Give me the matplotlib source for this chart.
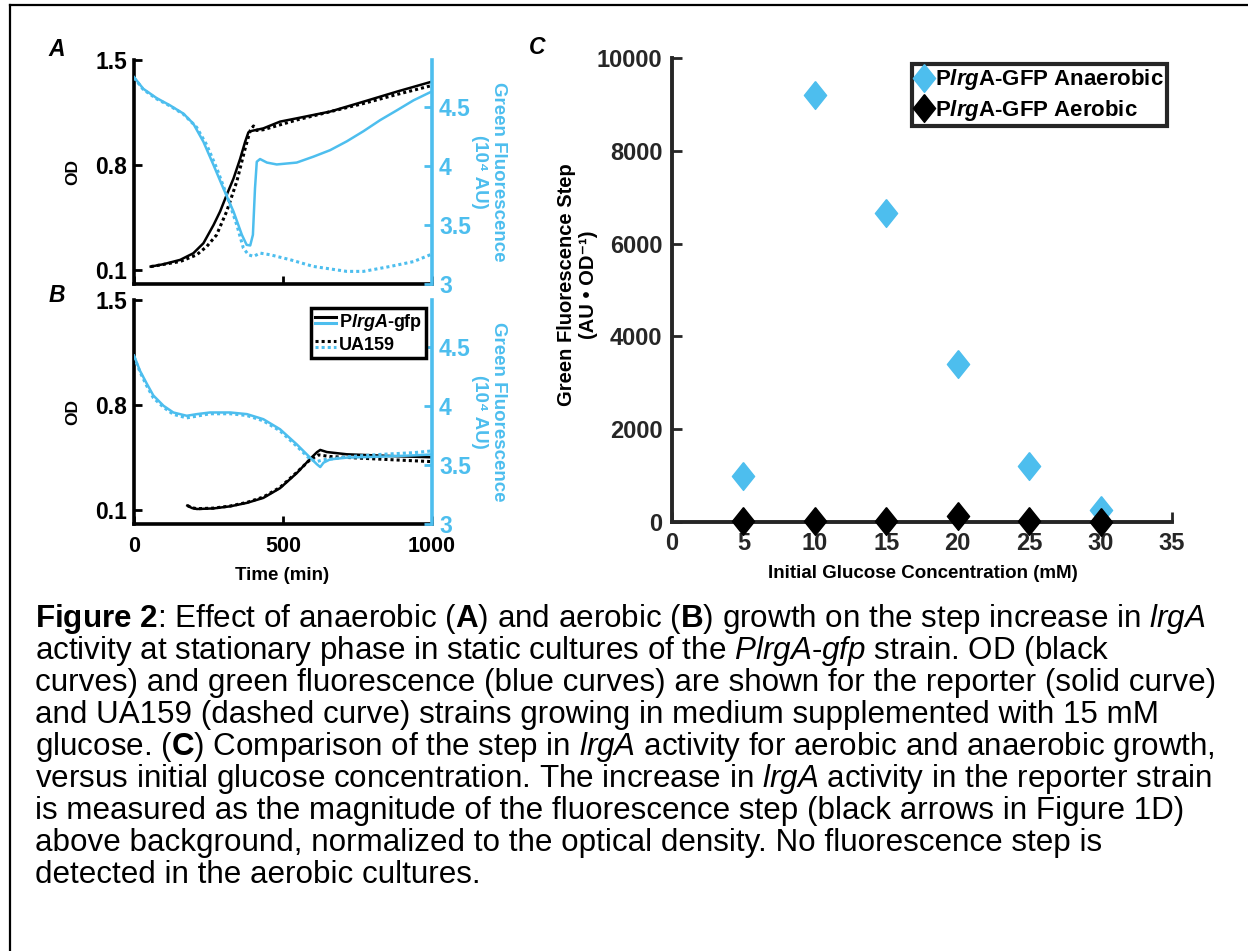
import numpy as np
import matplotlib
matplotlib.use("Agg")
import matplotlib.pyplot as plt
from matplotlib.lines import Line2D
from matplotlib.legend_handler import HandlerBase

plt.rcParams['font.family'] = ['Liberation Sans', 'DejaVu Sans']
plt.rcParams['font.weight'] = 'bold'
plt.rcParams['mathtext.fontset'] = 'custom'
plt.rcParams['mathtext.rm'] = 'Liberation Sans:weight=normal'
plt.rcParams['mathtext.it'] = 'Liberation Sans:style=italic:weight=normal'
plt.rcParams['mathtext.bf'] = 'Liberation Sans:weight=bold'
plt.rcParams['mathtext.bfit'] = 'Liberation Sans:style=italic:weight=bold'

BLUE = '#4DBEEE'
DARK = '#262626'

# ---- panel A: anaerobic growth (15 mM glucose) ----
tA_rep = [56, 99, 155, 199, 233, 267, 289, 311, 334, 356, 373, 384, 395, 434, 490, 546, 658, 770, 882, 1000]
odA_rep = [0.122, 0.138, 0.167, 0.211, 0.278, 0.40, 0.49, 0.60, 0.71, 0.84, 0.955, 1.018, 1.027, 1.044,
           1.089, 1.111, 1.156, 1.222, 1.289, 1.356]
tA_ua = [56, 155, 210, 244, 277, 311, 345, 373, 390, 401, 412, 434, 546, 770, 882, 1000]
odA_ua = [0.122, 0.156, 0.20, 0.256, 0.333, 0.49, 0.69, 0.91, 1.03, 1.06, 1.03, 1.035, 1.10, 1.21, 1.27, 1.33]

tfA_rep = [0, 31, 76, 121, 166, 199, 233, 267, 300, 334, 362, 378, 390, 399, 406, 412, 423, 446, 479, 546,
           602, 658, 714, 770, 826, 882, 938, 1000]
flA_rep = [4.755, 4.656, 4.577, 4.515, 4.445, 4.36, 4.206, 4.008, 3.81, 3.614, 3.417, 3.332, 3.327, 3.417,
           3.81, 4.037, 4.06, 4.03, 4.014, 4.03, 4.08, 4.135, 4.21, 4.296, 4.39, 4.473, 4.558, 4.634]
tfA_ua = [0, 31, 76, 121, 166, 210, 244, 278, 311, 345, 367, 384, 401, 423, 457, 524, 602, 714, 770, 860,
          938, 1000]
flA_ua = [4.75, 4.65, 4.57, 4.51, 4.44, 4.33, 4.18, 3.98, 3.755, 3.50, 3.304, 3.248, 3.234, 3.262, 3.248,
          3.206, 3.149, 3.107, 3.107, 3.149, 3.19, 3.254]

# ---- panel B: aerobic growth ----
tB_rep = [179, 194, 211, 267, 323, 379, 434, 490, 546, 591, 614, 625, 647, 714, 882, 1000]
odB_rep = [0.129, 0.113, 0.106, 0.11, 0.124, 0.147, 0.18, 0.245, 0.345, 0.44, 0.485, 0.50, 0.486, 0.471,
           0.458, 0.451]
tB_ua = [179, 194, 211, 267, 323, 379, 434, 490, 546, 591, 619, 658, 770, 882, 1000]
odB_ua = [0.129, 0.115, 0.108, 0.112, 0.126, 0.15, 0.186, 0.25, 0.35, 0.435, 0.467, 0.456, 0.444, 0.433, 0.422]

tfB_rep = [0, 20, 43, 65, 99, 132, 177, 211, 255, 323, 379, 434, 490, 546, 591, 614, 625, 636, 658, 714,
           826, 938, 1000]
flB_rep = [4.429, 4.30, 4.19, 4.09, 4.003, 3.946, 3.918, 3.932, 3.946, 3.946, 3.932, 3.889, 3.804, 3.676,
           3.563, 3.506, 3.483, 3.52, 3.548, 3.563, 3.571, 3.582, 3.59]
tfB_ua = [0, 20, 43, 65, 99, 132, 177, 211, 255, 323, 379, 434, 490, 546, 591, 614, 636, 658, 714, 826,
          938, 1000]
flB_ua = [4.42, 4.29, 4.17, 4.07, 3.99, 3.93, 3.90, 3.915, 3.935, 3.935, 3.92, 3.875, 3.79, 3.66, 3.55,
          3.53, 3.545, 3.55, 3.57, 3.59, 3.605, 3.62]

# ---- panel C: fluorescence step vs glucose ----
glucose = [5, 10, 15, 20, 25, 30]
step_anaerobic = [1000, 9200, 6650, 3400, 1200, 250]
step_aerobic = [30, 20, 15, 130, 20, 10]

od_ticks = [0.1, 0.8, 1.5]
fl_ticks = [3, 3.5, 4, 4.5]
fl_ticklabels = ['3', '3.5', '4', '4.5']
time_ticks = [0, 500, 1000]

HY = '\u2010'  # plain hyphen inside mathtext
caption = [
    r"$\mathbf{Figure\ 2}$: Effect of anaerobic ($\mathbf{A}$) and aerobic ($\mathbf{B}$) growth on the step increase in $\mathit{lrgA}$",
    r"activity at stationary phase in static cultures of the $\mathit{PlrgA" + HY + r"gfp}$ strain. OD (black",
    "curves) and green fluorescence (blue curves) are shown for the reporter (solid curve)",
    "and UA159 (dashed curve) strains growing in medium supplemented with 15 mM",
    r"glucose. ($\mathbf{C}$) Comparison of the step in $\mathit{lrgA}$ activity for aerobic and anaerobic growth,",
    r"versus initial glucose concentration. The increase in $\mathit{lrgA}$ activity in the reporter strain",
    "is measured as the magnitude of the fluorescence step (black arrows in Figure 1D)",
    "above background, normalized to the optical density. No fluorescence step is",
    "detected in the aerobic cultures.",
]

W, H = 1248, 951
fig = plt.figure(figsize=(W / 100, H / 100), dpi=100)


def px_axes(left, top, right, bottom):
    return fig.add_axes([left / W, 1 - bottom / H, (right - left) / W, (bottom - top) / H])


def fx(x):
    return x / W


def fy(y):
    return 1 - y / H


class StackedLines(HandlerBase):
    # black line above the blue one, like the two curves of each strain
    def create_artists(self, legend, orig_handle, xdescent, ydescent, width, height, fontsize, trans):
        out = []
        for k, ln in enumerate(orig_handle):
            y = height / 2 - ydescent + (2.2 if k == 0 else -2.2)
            a = Line2D([-xdescent, width - xdescent], [y, y])
            a.update_from(ln)
            a.set_transform(trans)
            out.append(a)
        return out


def growth_panel(ax_box, t_od, od, t_od2, od2, t_fl, fl, t_fl2, fl2, show_x):
    ax = px_axes(*ax_box)
    ax.plot(t_od, od, color='k', lw=1.8)
    ax.plot(t_od2, od2, color='k', lw=2.2, ls=(0, (1, 1)))
    ax.set_xlim(0, 1000)
    ax.set_ylim(0.006, 1.5)
    ax.set_yticks(od_ticks)
    ax.set_yticklabels(['0.1', '0.8', '1.5'])
    ax.set_xticks(time_ticks)
    ax.tick_params(direction='in', length=6, width=2, labelsize=16.5, pad=5)
    ax.tick_params(axis='x', labelbottom=show_x, labelsize=15.5, pad=9)
    for s in ['top', 'right']:
        ax.spines[s].set_visible(False)
    for s in ['left', 'bottom']:
        ax.spines[s].set_linewidth(2.6)

    ax2 = ax.twinx()
    ax2.plot(t_fl, fl, color=BLUE, lw=1.8)
    ax2.plot(t_fl2, fl2, color=BLUE, lw=2.2, ls=(0, (1, 1)))
    ax2.set_ylim(3, 4.9)
    ax2.set_yticks(fl_ticks)
    ax2.set_yticklabels(fl_ticklabels)
    ax2.tick_params(direction='in', length=6, width=2, labelsize=16.5, colors=BLUE, pad=5)
    for s in ['top', 'left', 'bottom']:
        ax2.spines[s].set_visible(False)
    ax2.spines['right'].set_color(BLUE)
    ax2.spines['right'].set_linewidth(2.6)

    top, bottom = ax_box[1], ax_box[3]
    mid = (top + bottom) / 2
    fig.text(fx(73), fy(mid), 'OD', rotation=90, ha='center', va='center', fontsize=12.5)
    fig.text(fx(489), fy(mid), 'Green Fluorescence\n(10\u2074 AU)', rotation=270, ha='center',
             va='center', fontsize=13.5, color=BLUE, linespacing=1.15, multialignment='center')
    return ax, ax2


axA, axA2 = growth_panel((134, 60, 432, 284), tA_rep, odA_rep, tA_ua, odA_ua,
                         tfA_rep, flA_rep, tfA_ua, flA_ua, False)
axB, axB2 = growth_panel((134, 300, 432, 524), tB_rep, odB_rep, tB_ua, odB_ua,
                         tfB_rep, flB_rep, tfB_ua, flB_ua, True)
fig.text(fx(282), fy(575), 'Time (min)', ha='center', va='center', fontsize=13.5)

h_rep = (Line2D([], [], color='k', lw=2.2), Line2D([], [], color=BLUE, lw=2.2))
h_ua = (Line2D([], [], color='k', lw=2.2, ls=(0, (1, 1))), Line2D([], [], color=BLUE, lw=2.2, ls=(0, (1, 1))))
legB = axB2.legend([h_rep, h_ua], [r"$\mathbf{P}\mathbfit{lrgA}\mathbf{" + HY + "gfp}$", 'UA159'],
                   handler_map={tuple: StackedLines()}, loc='upper right',
                   bbox_to_anchor=(fx(426), fy(308)), bbox_transform=fig.transFigure,
                   borderaxespad=0, fontsize=13, handlelength=1.2, handletextpad=0.15,
                   borderpad=0.2, labelspacing=0.25, fancybox=False, framealpha=1)
legB.get_frame().set_edgecolor('k')
legB.get_frame().set_linewidth(2.5)

# ---- panel C ----
diamond = [(0, 1), (0.8, 0), (0, -1), (-0.8, 0), (0, 1)]
axC = px_axes(672, 58, 1172, 522)
axC.plot(glucose, step_anaerobic, ls='none', marker=diamond, ms=20, color=BLUE, mec=BLUE, clip_on=False,
         zorder=3, label=r"$\mathbf{P}\mathbfit{lrg}\mathbf{A" + HY + r"GFP\ Anaerobic}$")
axC.plot(glucose, step_aerobic, ls='none', marker=diamond, ms=20, color='k', mec='k', clip_on=False,
         zorder=4, label=r"$\mathbf{P}\mathbfit{lrg}\mathbf{A" + HY + r"GFP\ Aerobic}$")
axC.set_xlim(0, 35)
axC.set_ylim(0, 10000)
axC.set_xticks(range(0, 36, 5))
axC.set_yticks(range(0, 10001, 2000))
axC.tick_params(direction='in', length=7, width=2, labelsize=17, colors=DARK, pad=7)
for s in ['top', 'right']:
    axC.spines[s].set_visible(False)
for s in ['left', 'bottom']:
    axC.spines[s].set_linewidth(2.8)
    axC.spines[s].set_color(DARK)
fig.text(fx(923), fy(574), 'Initial Glucose Concentration (mM)', ha='center', va='center', fontsize=13.5)
fig.text(fx(578), fy(285), 'Green Fluorescence Step\n(AU \u2022 OD\u207b\u00b9)', rotation=90, ha='center',
         va='center', fontsize=14.5, linespacing=1.2, multialignment='center')
legC = axC.legend(loc='upper right', bbox_to_anchor=(fx(1167), fy(64)), bbox_transform=fig.transFigure,
                  borderaxespad=0, fontsize=16, handlelength=0.8, handletextpad=0.1, borderpad=0.15,
                  labelspacing=0.25, fancybox=False, framealpha=1, numpoints=1)
legC.get_frame().set_edgecolor(DARK)
legC.get_frame().set_linewidth(3)

# panel letters
for x, y, s in [(57, 50, 'A'), (57, 295, 'B'), (537, 47, 'C')]:
    fig.text(fx(x), fy(y), s, ha='center', va='center', fontsize=16.5, fontstyle='italic')

# caption
for k, line in enumerate(caption):
    fig.text(fx(35), fy(627 + 32 * k), line, ha='left', va='baseline', fontsize=22.6,
             fontweight='normal', color='k')

# outer frame
fig.add_artist(Line2D([fx(10), fx(10)], [0, fy(5)], color='k', lw=1.6))
fig.add_artist(Line2D([fx(10), 1], [fy(5), fy(5)], color='k', lw=1.6))

fig.savefig('out.png', dpi=100)
